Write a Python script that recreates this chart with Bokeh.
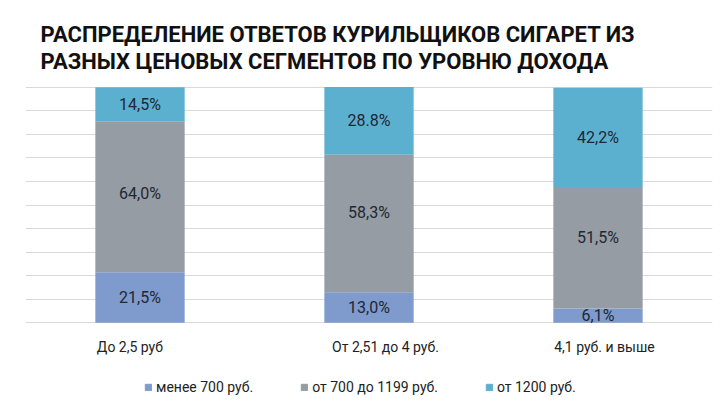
from bokeh.plotting import figure
from bokeh.models import ColumnDataSource, Range1d, FixedTicker, Title, Legend, LegendItem
from bokeh.layouts import column
from bokeh.embed import file_html
from bokeh.resources import INLINE
from bokeh.core.properties import value

# ---- data ----
categories = ["До 2,5 руб", "От 2,51 до 4 руб.", "4,1 руб. и выше"]
series_names = ["менее 700 руб.", "от 700 до 1199 руб.", "от 1200 руб."]
low = [21.5, 13.0, 6.1]
mid = [64.0, 58.3, 51.5]
high = [14.5, 28.8, 42.2]
low_labels = ["21,5%", "13,0%", "6,1%"]
mid_labels = ["64,0%", "58,3%", "51,5%"]
high_labels = ["14,5%", "28.8%", "42,2%"]
y_ticks = list(range(0, 101, 10))
title_text = "РАСПРЕДЕЛЕНИЕ ОТВЕТОВ КУРИЛЬЩИКОВ СИГАРЕТ ИЗ\nРАЗНЫХ ЦЕНОВЫХ СЕГМЕНТОВ ПО УРОВНЮ ДОХОДА"

# ---- styling / layout ----
colors = ["#7f9acd", "#959ca3", "#5cb0cf"]
FONT = "Roboto"
TEXT = "#222222"
mid_label_shift = [-3, -11, -10]          # px, as placed in the reference
label_pos = [0.456, 1.572, 2.528]         # category label anchors, as in the reference

x = [i + 0.5 for i in range(len(categories))]
low_c = [l / 2 for l in low]
mid_c = [l + m / 2 for l, m in zip(low, mid)]
high_c = [l + m + h / 2 for l, m, h in zip(low, mid, high)]

src = ColumnDataSource(dict(x=x, low=low, mid=mid, high=high,
                            low_c=low_c, mid_c=mid_c, high_c=high_c,
                            low_l=low_labels, mid_l=mid_labels, high_l=high_labels,
                            mid_off=mid_label_shift))

p = figure(width=720, height=365, output_backend="svg", toolbar_location=None,
           x_range=Range1d(0, len(categories)), y_range=Range1d(-0.3, 100.3))
p.min_border_left = 25
p.min_border_right = 8
p.min_border_top = 86
p.min_border_bottom = 42
p.outline_line_color = None
p.background_fill_color = "white"
p.border_fill_color = "white"

p.ygrid.ticker = FixedTicker(ticks=y_ticks)
p.ygrid.grid_line_color = "#d9d9d9"
p.ygrid.grid_line_width = 1
p.xgrid.visible = False
p.yaxis.visible = False

renderers = p.vbar_stack(["low", "mid", "high"], x="x", width=0.39, source=src,
                         color=colors, line_color=None)

label_style = dict(source=src, text_align="center", text_baseline="middle",
                   text_font=value(FONT), text_font_size="16px", text_color="#1e2833")
p.text(x="x", y="low_c", text="low_l", **label_style)
p.text(x="x", y="mid_c", text="mid_l", y_offset="mid_off", **label_style)
p.text(x="x", y="high_c", text="high_l", **label_style)

p.xaxis.ticker = FixedTicker(ticks=label_pos)
p.xaxis.major_label_overrides = {pos: c for pos, c in zip(label_pos, categories)}
p.xaxis.axis_line_color = None
p.xaxis.major_tick_line_color = None
p.xaxis.minor_tick_line_color = None
p.xaxis.major_label_standoff = 9
p.xaxis.major_label_text_font = FONT
p.xaxis.major_label_text_font_size = "14px"
p.xaxis.major_label_text_color = TEXT

p.add_layout(Title(text=title_text, text_font=FONT, text_font_size="22px",
                   text_font_style="bold", text_color="#111111", text_line_height=1.05,
                   offset=15, standoff=26), "above")

# legend strip (legend proxies carry no visible extent)
lf = figure(width=720, height=38, output_backend="svg", toolbar_location=None,
            x_range=Range1d(0, 1), y_range=Range1d(0, 1), min_border=0)
lf.axis.visible = False
lf.grid.visible = False
lf.outline_line_color = None
nan = float("nan")
items = []
for name, c in zip(series_names, colors):
    r = lf.quad(left=[nan], right=[nan], top=[nan], bottom=[nan], color=c)
    items.append(LegendItem(label=name, renderers=[r]))
legend = Legend(items=items, orientation="horizontal", location=(119, 8),
                glyph_width=8, glyph_height=8, label_standoff=4, spacing=47,
                label_text_font=FONT, label_text_font_size="14px", label_text_color=TEXT,
                border_line_color=None, background_fill_alpha=0, padding=0, margin=0)
lf.add_layout(legend, "center")

open("out.html", "w").write(file_html(column(p, lf, spacing=0), INLINE))
